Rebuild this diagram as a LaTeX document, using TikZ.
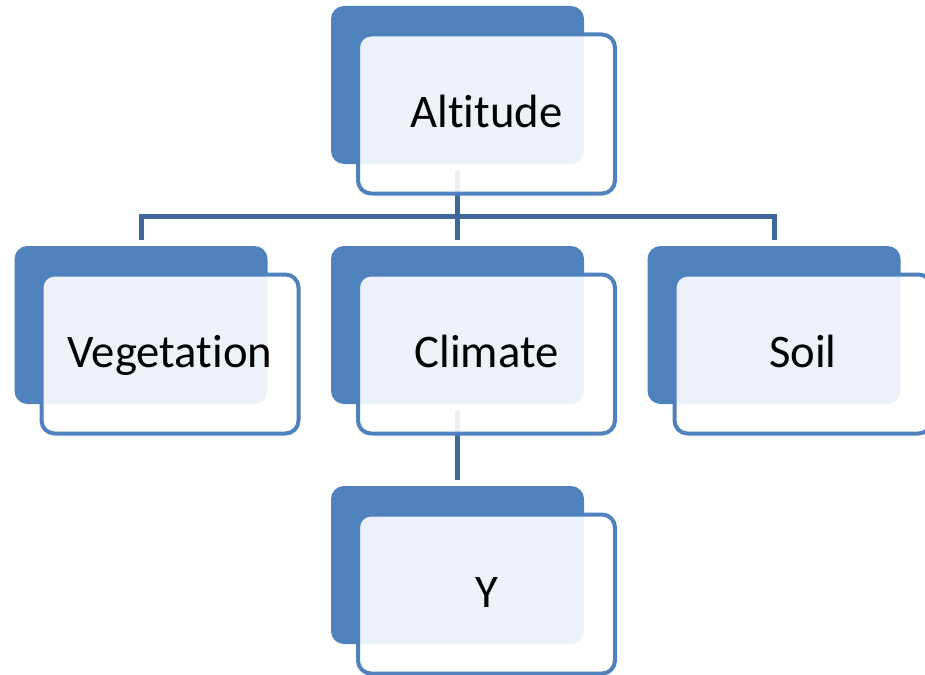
\documentclass[tikz,border=0pt]{standalone}
\usepackage{fontspec}
\setmainfont[Ligatures=NoCommon]{Carlito}
\usepackage{tikz}
\usetikzlibrary{positioning, calc}
\definecolor{AccentBlue}{RGB}{79, 129, 189}
\definecolor{LinkBlue}{RGB}{62, 104, 156}

\begin{document}
\begin{tikzpicture}[
    x=1pt, y=-1pt,
    backbox/.style={fill=AccentBlue, rounded corners=13pt, minimum width=253pt, minimum height=158pt, inner sep=0pt},
    frontbox/.style={draw=AccentBlue, line width=4pt, fill=white, fill opacity=0.9, text opacity=1, rounded corners=13pt, minimum width=257pt, minimum height=159pt, inner sep=0pt, font=\fontsize{46.7}{56}\selectfont, text height=35pt, text depth=9pt},
    link/.style={draw=LinkBlue, line width=5pt, shorten <=6pt, shorten >=6pt}
]
\useasboundingbox (0,0) rectangle (925,674);
% back boxes
\node[backbox] (altb) at (457.5,85) {};
\node[backbox] (vegb) at (141,325) {};
\node[backbox] (climb) at (457.5,325) {};
\node[backbox] (soilb) at (774,325) {};
\node[backbox] (yb) at (457.5,565) {};
% connectors
\draw[link] (altb.south) -- ++(0,52) -| (vegb.north);
\draw[link] (altb.south) -- ++(0,52) -| (climb.north);
\draw[link] (altb.south) -- ++(0,52) -| (soilb.north);
\draw[link] (climb.south) -- (yb.north);
% front boxes with the texts
\node[frontbox] (alt) at ($(altb)+(29,29)$) {Altitude};
\node[frontbox] (veg) at ($(vegb)+(29,29)$) {Vegetation};
\node[frontbox] (clim) at ($(climb)+(29,29)$) {Climate};
\node[frontbox] (soil) at ($(soilb)+(29,29)$) {Soil};
\node[frontbox] (y) at ($(yb)+(29,29)$) {Y};
\end{tikzpicture}
\end{document}
